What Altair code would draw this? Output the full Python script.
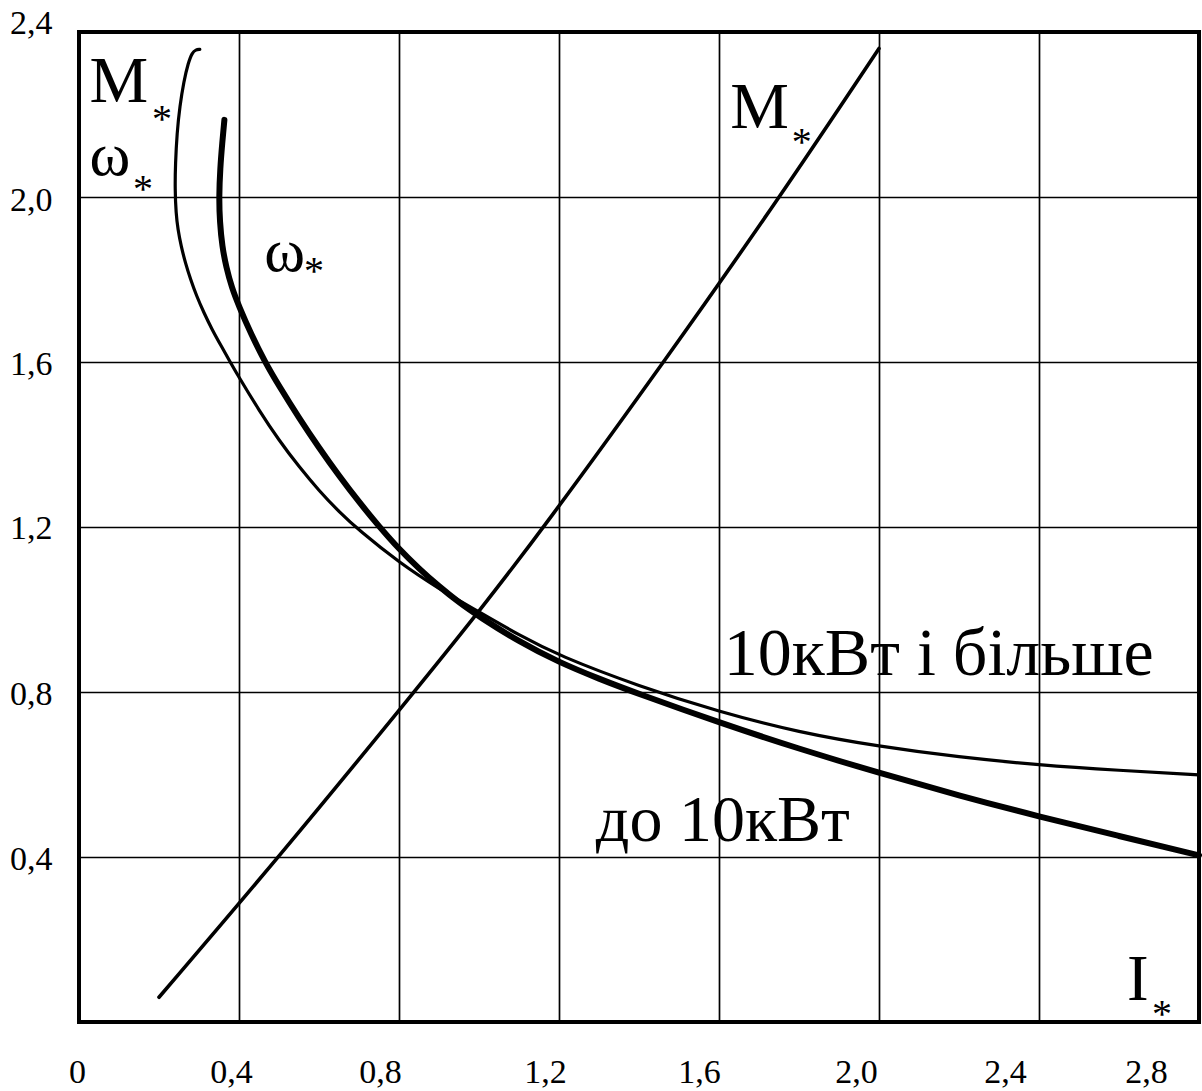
import altair as alt
import pandas as pd

# ---- data ----
# M* (torque) curve
m_x = [0.20, 0.50, 0.838, 1.00, 1.163, 1.4625, 1.7525, 2.00]
m_y = [0.06, 0.40, 0.80, 0.995, 1.20, 1.60, 2.00, 2.36]

# omega* for 10 kW and more (thin line)
thin_x = [0.302, 0.292, 0.283, 0.273, 0.262, 0.252, 0.245, 0.241, 0.240, 0.2425, 0.2475, 0.255,
          0.266, 0.279, 0.294, 0.312, 0.332, 0.356, 0.378, 0.400, 0.45, 0.50, 0.55, 0.60, 0.65,
          0.70, 0.80, 0.90, 1.00, 1.10, 1.20, 1.40, 1.60, 1.80, 2.00, 2.20, 2.40, 2.60, 2.80]
thin_y = [2.358, 2.357, 2.350, 2.325, 2.280, 2.220, 2.155, 2.080, 2.020, 1.960, 1.920, 1.882,
          1.840, 1.800, 1.760, 1.720, 1.680, 1.638, 1.600, 1.563, 1.483, 1.410, 1.346, 1.288,
          1.237, 1.192, 1.114, 1.050, 0.994, 0.938, 0.888, 0.814, 0.752, 0.702, 0.668, 0.642,
          0.623, 0.610, 0.599]

# omega* up to 10 kW (thick line)
thick_x = [0.3635, 0.358, 0.353, 0.350, 0.352, 0.358, 0.368, 0.382, 0.400, 0.430, 0.465, 0.50,
           0.55, 0.60, 0.65, 0.70, 0.75, 0.80, 0.85, 0.90, 0.95, 1.00, 1.10, 1.20, 1.30, 1.40,
           1.60, 1.80, 2.00, 2.20, 2.40, 2.60, 2.80]
thick_y = [2.187, 2.130, 2.070, 2.000, 1.940, 1.880, 1.830, 1.780, 1.735, 1.668, 1.600, 1.542,
           1.4645, 1.392, 1.324, 1.2605, 1.2015, 1.1465, 1.099, 1.056, 1.017, 0.983, 0.922,
           0.872, 0.832, 0.795, 0.726, 0.662, 0.604, 0.549, 0.498, 0.451, 0.404]

x_ticks = [0, 0.4, 0.8, 1.2, 1.6, 2.0, 2.4, 2.8]
y_ticks = [0.4, 0.8, 1.2, 1.6, 2.0, 2.4]

# annotations
label_text = ["M", "ω", "ω", "M", "I", "10кВт і більше", "до 10кВт"]
label_x = [0.026, 0.026, 0.463, 1.628, 2.62, 1.612, 1.292]
label_y = [2.231, 2.054, 1.821, 2.168, 0.053, 0.842, 0.439]
star_x = [0.2075, 0.160, 0.5875, 1.807, 2.7075]
star_y = [2.212, 2.042, 1.843, 2.156, 0.041]

# ---- styling (not data) ----
x_label_shift = [-2, -8, -19, -14, -20, -23, -34, -53]
y_label_shift = [2, 2, 1, 2, 3, -9]
label_size = [66, 62, 62, 66, 65, 68, 66]
star_size = 40
FONT = "Liberation Serif"

def shift_expr(ticks, shifts):
    keys = ",".join(str(int(round(t * 10))) for t in ticks)
    vals = ",".join(str(s) for s in shifts)
    return f"[{vals}][indexof([{keys}], round(datum.value*10))]"

label_expr_x = "datum.value == 0 ? '0' : replace(format(datum.value, '.1f'), '.', ',')"
label_expr_y = "replace(format(datum.value, '.1f'), '.', ',')"

xs = alt.Scale(domain=[0, 2.8], nice=False, zero=False)
ys = alt.Scale(domain=[0, 2.4], nice=False, zero=False)

x_axis = alt.Axis(values=x_ticks, labelExpr=label_expr_x, title=None, domain=False, ticks=False,
                  grid=True, labelPadding=33, labelFontSize=34, labelFont=FONT, labelColor="black",
                  labelOffset={"expr": shift_expr(x_ticks, x_label_shift)},
                  gridColor="black", gridWidth=1.7, gridOpacity=1, labelFlush=False, labelOverlap=False)
y_axis = alt.Axis(values=y_ticks, labelExpr=label_expr_y, title=None, domain=False, ticks=False,
                  grid=True, labelPadding=27, labelFontSize=34, labelFont=FONT, labelColor="black",
                  labelOffset={"expr": shift_expr(y_ticks, y_label_shift)},
                  gridColor="black", gridWidth=1.7, gridOpacity=1, labelFlush=False, labelOverlap=False)

def curve_df(xv, yv):
    return pd.DataFrame({"x": xv, "y": yv, "i": list(range(len(xv)))})

def curve(xv, yv, width):
    return alt.Chart(curve_df(xv, yv)).mark_line(
        color="black", strokeWidth=width, strokeCap="round", strokeJoin="round",
        interpolate="basis"
    ).encode(
        x=alt.X("x:Q", scale=xs, axis=x_axis),
        y=alt.Y("y:Q", scale=ys, axis=y_axis),
        order="i:Q",
    )

m_line = curve(m_x, m_y, 3.6)
thin_line = curve(thin_x, thin_y, 3.2)
thick_line = curve(thick_x, thick_y, 6.0)

labels_df = pd.DataFrame({"x": label_x, "y": label_y, "t": label_text, "s": label_size})
labels = alt.Chart(labels_df).mark_text(
    font=FONT, align="left", baseline="alphabetic", color="black"
).encode(
    x=alt.X("x:Q", scale=xs), y=alt.Y("y:Q", scale=ys),
    text="t:N", size=alt.Size("s:Q", scale=None, legend=None),
)

stars_df = pd.DataFrame({"x": star_x, "y": star_y, "t": ["*"] * len(star_x)})
stars = alt.Chart(stars_df).mark_text(
    font=FONT, align="center", baseline="middle", color="black", fontSize=star_size, dy=10
).encode(
    x=alt.X("x:Q", scale=xs), y=alt.Y("y:Q", scale=ys), text="t:N",
)

chart = alt.layer(thin_line, thick_line, m_line, labels, stars).properties(
    width=1120, height=990,
    autosize=alt.AutoSizeParams(type="none"),
    padding={"left": 79, "top": 32, "right": 3, "bottom": 69},
    background="white",
).configure_view(stroke="black", strokeWidth=4)

chart.save("out.html", embed_options={"renderer": "svg", "actions": False})
